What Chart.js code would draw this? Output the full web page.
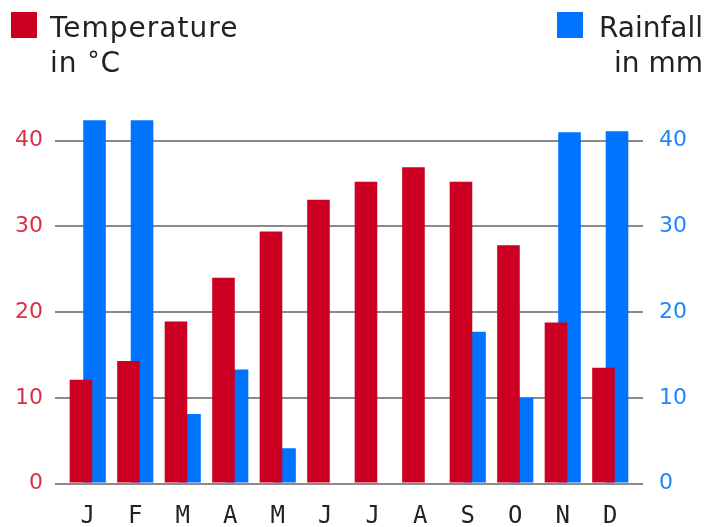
<!DOCTYPE html>
<html>
<head>
<meta charset="utf-8">
<script src="https://cdn.jsdelivr.net/npm/chart.js@4.4.1/dist/chart.umd.min.js"></script>
<style>
  body { margin: 0; background: #fff; }
  #wrap { position: relative; width: 707px; height: 527px; }
  .key { position: absolute; font-family: "DejaVu Sans", Verdana, sans-serif; font-size: 28px; line-height: 35px; color: #222; }
  .sq { position: absolute; width: 26px; height: 26px; }
  .deg { font-size: 24px; position: relative; top: -3px; line-height: 0; }
</style>
</head>
<body>
<div id="wrap">
  <canvas id="climate"></canvas>
  <div class="sq" style="left:11px; top:12px; background:#cc0022;"></div>
  <div class="key" style="left:50px; top:10px; letter-spacing:1px;">Temperature<br>in <span class="deg">°</span>C</div>
  <div class="sq" style="left:557px; top:12px; background:#0073ff;"></div>
  <div class="key" style="right:4px; top:10px; text-align:right;">Rainfall<br>in mm</div>
</div>
<script>
// months along the bottom
const months = ["J", "F", "M", "A", "M", "J", "J", "A", "S", "O", "N", "D"];
// temperature in C (left axis)
const temperature = [12.1, 14.3, 18.9, 24.0, 29.4, 33.1, 35.2, 36.9, 35.2, 27.8, 18.8, 13.5];
// rainfall in mm (right axis)
const rainfall = [42.4, 42.4, 8.1, 13.3, 4.1, 0, 0, 0, 17.7, 10.0, 41.0, 41.1];

const tempColor = "#cc0022";
const rainColor = "#0073ff";
const gridColor = "#8a8a8a";

// only keep the 0..40 ticks, the axis goes a bit higher for the tall bars
function keepTicks(scale) {
  scale.ticks = scale.ticks.filter(t => t.value <= 40);
}

const ctx = document.getElementById("climate").getContext("2d");
new Chart(ctx, {
  type: "bar",
  data: {
    labels: months,
    datasets: [
      {
        label: "Temperature in °C",
        data: temperature,
        backgroundColor: tempColor,
        yAxisID: "y",
        categoryPercentage: 0.57,
        barPercentage: 1.67
      },
      {
        label: "Rainfall in mm",
        data: rainfall,
        backgroundColor: rainColor,
        yAxisID: "y2",
        categoryPercentage: 0.57,
        barPercentage: 1.67
      }
    ]
  },
  options: {
    responsive: true,
    maintainAspectRatio: false,
    animation: false,
    layout: { padding: { top: 55, left: 0, right: 0, bottom: 0 } },
    plugins: {
      legend: { display: false },
      tooltip: { enabled: false }
    },
    scales: {
      x: {
        grid: { display: false, drawTicks: false },
        border: { display: false },
        ticks: {
          color: "#222",
          padding: 19,
          font: { family: "'DejaVu Sans Mono', monospace", size: 24 }
        },
        afterFit: s => { s.height = 43.5; }
      },
      y: {
        position: "left",
        min: 0,
        max: 50,
        grid: { color: gridColor, lineWidth: 2, tickLength: 9 },
        border: { display: false },
        ticks: {
          stepSize: 10,
          color: "#dc2f48",
          padding: 12,
          font: { family: "'DejaVu Sans', Verdana, sans-serif", size: 22 }
        },
        afterBuildTicks: keepTicks,
        afterFit: s => { s.width = 64; }
      },
      y2: {
        position: "right",
        min: 0,
        max: 50,
        grid: { color: gridColor, lineWidth: 2, tickLength: 9, drawOnChartArea: false },
        border: { display: false },
        ticks: {
          stepSize: 10,
          color: "#1f86ff",
          padding: 16,
          font: { family: "'DejaVu Sans', Verdana, sans-serif", size: 22 }
        },
        afterBuildTicks: keepTicks,
        afterFit: s => { s.width = 73; }
      }
    }
  }
});
</script>
</body>
</html>
